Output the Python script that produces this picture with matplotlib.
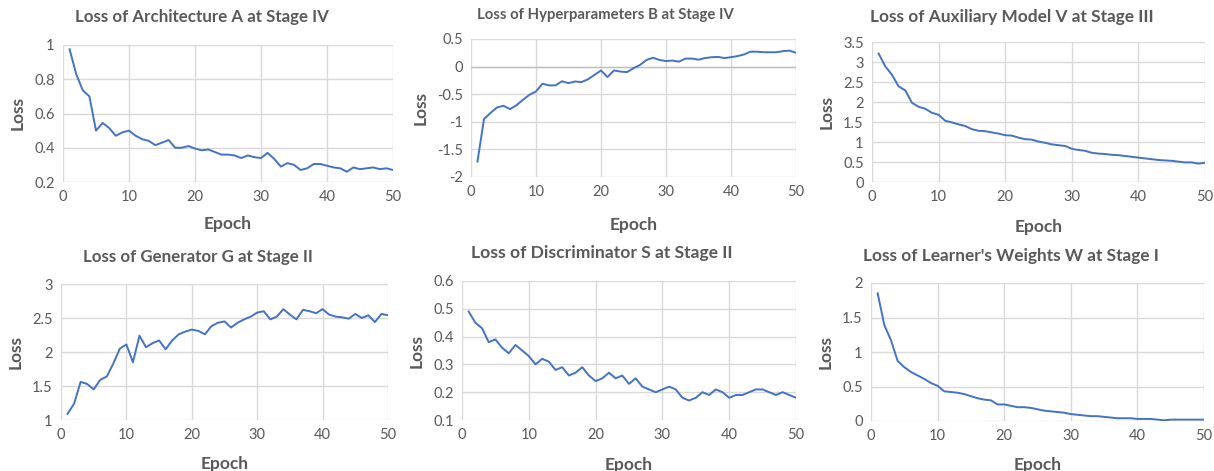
import matplotlib
matplotlib.use("Agg")
import matplotlib.pyplot as plt
import numpy as np

epochs = list(range(1, 51))

loss_arch_a = [0.975, 0.83, 0.735, 0.70, 0.50, 0.545, 0.515, 0.47, 0.49, 0.50,
               0.47, 0.45, 0.44, 0.415, 0.43, 0.445, 0.40, 0.40, 0.41, 0.395,
               0.385, 0.39, 0.375, 0.36, 0.36, 0.355, 0.34, 0.355, 0.345, 0.34,
               0.37, 0.335, 0.29, 0.31, 0.30, 0.27, 0.28, 0.305, 0.305, 0.295,
               0.285, 0.28, 0.26, 0.285, 0.275, 0.28, 0.285, 0.275, 0.28, 0.27]

loss_hyper_b = [-1.72, -0.95, -0.84, -0.74, -0.71, -0.77, -0.70, -0.60, -0.51, -0.45,
                -0.31, -0.34, -0.34, -0.265, -0.30, -0.27, -0.28, -0.23, -0.15, -0.07,
                -0.19, -0.07, -0.09, -0.10, -0.03, 0.03, 0.12, 0.16, 0.12, 0.10,
                0.11, 0.09, 0.145, 0.145, 0.125, 0.155, 0.17, 0.175, 0.155, 0.17,
                0.19, 0.22, 0.27, 0.27, 0.26, 0.26, 0.26, 0.28, 0.29, 0.25]

loss_aux_v = [3.21, 2.89, 2.68, 2.39, 2.29, 1.98, 1.88, 1.83, 1.73, 1.68,
              1.53, 1.49, 1.44, 1.40, 1.32, 1.28, 1.27, 1.24, 1.21, 1.17,
              1.16, 1.11, 1.07, 1.06, 1.01, 0.98, 0.94, 0.92, 0.90, 0.83,
              0.80, 0.78, 0.73, 0.71, 0.70, 0.68, 0.67, 0.65, 0.63, 0.61,
              0.59, 0.57, 0.55, 0.54, 0.53, 0.51, 0.49, 0.49, 0.46, 0.48]

loss_gen_g = [1.09, 1.24, 1.56, 1.53, 1.45, 1.59, 1.64, 1.83, 2.05, 2.11,
              1.85, 2.24, 2.07, 2.13, 2.17, 2.04, 2.17, 2.26, 2.30, 2.33,
              2.31, 2.26, 2.38, 2.43, 2.45, 2.36, 2.43, 2.48, 2.52, 2.58,
              2.60, 2.48, 2.52, 2.63, 2.55, 2.48, 2.62, 2.60, 2.57, 2.63,
              2.55, 2.52, 2.51, 2.49, 2.56, 2.50, 2.54, 2.44, 2.56, 2.54]

loss_disc_s = [0.49, 0.45, 0.43, 0.38, 0.39, 0.36, 0.34, 0.37, 0.35, 0.33,
               0.30, 0.32, 0.31, 0.28, 0.29, 0.26, 0.27, 0.29, 0.26, 0.24,
               0.25, 0.27, 0.25, 0.26, 0.23, 0.25, 0.22, 0.21, 0.20, 0.21,
               0.22, 0.21, 0.18, 0.17, 0.18, 0.20, 0.19, 0.21, 0.20, 0.18,
               0.19, 0.19, 0.20, 0.21, 0.21, 0.20, 0.19, 0.20, 0.19, 0.18]

loss_learner_w = [1.85, 1.39, 1.17, 0.87, 0.78, 0.71, 0.66, 0.61, 0.55, 0.51,
                  0.43, 0.42, 0.41, 0.39, 0.36, 0.33, 0.31, 0.30, 0.24, 0.24,
                  0.22, 0.20, 0.20, 0.19, 0.17, 0.15, 0.14, 0.13, 0.12, 0.10,
                  0.09, 0.08, 0.07, 0.07, 0.06, 0.05, 0.04, 0.04, 0.04, 0.03,
                  0.03, 0.03, 0.02, 0.01, 0.02, 0.02, 0.02, 0.02, 0.02, 0.02]

titles = ["Loss of Architecture A at Stage IV",
          "Loss of Hyperparameters B at Stage IV",
          "Loss of Auxiliary Model V at Stage III",
          "Loss of Generator G at Stage II",
          "Loss of Discriminator S at Stage II",
          "Loss of Learner's Weights W at Stage I"]

y_ticks = [[0.2, 0.4, 0.6, 0.8, 1.0],
           [-2, -1.5, -1, -0.5, 0, 0.5],
           [0, 0.5, 1, 1.5, 2, 2.5, 3, 3.5],
           [1, 1.5, 2, 2.5, 3],
           [0.1, 0.2, 0.3, 0.4, 0.5, 0.6],
           [0, 0.5, 1, 1.5, 2]]
y_labels = [["0.2", "0.4", "0.6", "0.8", "1"],
            ["-2", "-1.5", "-1", "-0.5", "0", "0.5"],
            ["0", "0.5", "1", "1.5", "2", "2.5", "3", "3.5"],
            ["1", "1.5", "2", "2.5", "3"],
            ["0.1", "0.2", "0.3", "0.4", "0.5", "0.6"],
            ["0", "0.5", "1", "1.5", "2"]]
x_ticks = [0, 10, 20, 30, 40, 50]

series = [loss_arch_a, loss_hyper_b, loss_aux_v, loss_gen_g, loss_disc_s, loss_learner_w]

W, H = 1214, 471
# plot areas in pixel coords: (left, top, right, bottom)
boxes = [(63, 45, 393, 182),
         (471, 39, 796, 177),
         (872, 42, 1205, 182),
         (61, 284, 388, 420),
         (462, 281, 796, 420),
         (871, 283, 1204, 421)]
title_x = [202, 605, 1012, 198, 602, 1011]
title_y = [17, 15, 17, 257, 253, 256]
title_fs = [12.2, 10.7, 12.4, 12.2, 12.6, 12.45]
x_labelpad = [8.3, 12.6, 10.5, 9.8, 10.5, 9.8]

plt.rcParams['font.family'] = ['Lato', 'DejaVu Sans']
fig = plt.figure(figsize=(W / 100, H / 100), dpi=100)
txt = '#595959'
line_c = '#4472C4'
grid_c = '#D9D9D9'

for i in range(6):
    l, t, r, b = boxes[i]
    ax = fig.add_axes([l / W, 1 - b / H, (r - l) / W, (b - t) / H])
    ax.plot(epochs, series[i], color=line_c, lw=1.4)
    ax.set_xlim(0, 50)
    ax.set_ylim(y_ticks[i][0], y_ticks[i][-1])
    ax.set_xticks(x_ticks)
    ax.set_yticks(y_ticks[i])
    ax.set_yticklabels(y_labels[i])
    ax.grid(True, color=grid_c, lw=1)
    ax.set_axisbelow(True)
    for s in ax.spines.values():
        s.set_visible(False)
    ax.tick_params(length=0, colors=txt, labelsize=10.5, pad=6)
    if i == 1:
        ax.axhline(0, color='#BFBFBF', lw=1, zorder=1)
    ax.set_xlabel('Epoch', fontsize=12.5, fontweight='bold', color=txt, labelpad=x_labelpad[i])
    ax.set_ylabel('Loss', fontsize=12.5, fontweight='bold', color=txt, labelpad=6)
    fig.text(title_x[i] / W, 1 - title_y[i] / H, titles[i], ha='center', va='center',
             fontsize=title_fs[i], fontweight='bold', color=txt)

fig.savefig('out.png', dpi=100)
